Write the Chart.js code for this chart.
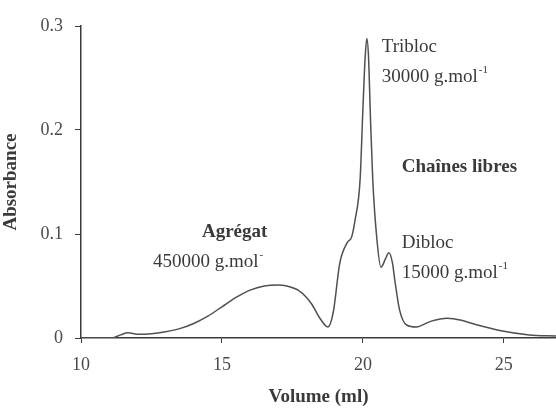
<!DOCTYPE html>
<html>
<head>
<meta charset="utf-8">
<script src="https://cdn.jsdelivr.net/npm/chart.js@4/dist/chart.umd.min.js"></script>
<style>
  html, body { margin: 0; padding: 0; background: #fff; }
  #wrap { width: 556px; height: 408px; position: relative; }
</style>
</head>
<body>
<div id="wrap"><canvas id="chart"></canvas></div>
<script>
// Elution volume (ml) and absorbance
var volume = [10, 11.1, 11.4, 11.67, 12.0, 12.5, 13, 13.5, 14, 14.5, 15, 15.5, 16, 16.5, 17, 17.3, 17.7, 18.0, 18.2, 18.45,
    18.76, 18.95, 19.18, 19.45, 19.6, 19.72, 19.9, 20.0, 20.08, 20.14, 20.2, 20.27, 20.35, 20.5, 20.64, 20.8, 20.92,
    21.05, 21.13, 21.3, 21.55, 21.9, 22.4, 23.0, 23.5, 24.0, 24.9, 25.9, 26.85];
var absorbance = [0, 0, 0.003, 0.005, 0.0035, 0.004, 0.006, 0.009, 0.014, 0.021, 0.030, 0.039, 0.046, 0.050, 0.051, 0.050,
    0.046, 0.039, 0.032, 0.020, 0.0106, 0.025, 0.072, 0.092, 0.097, 0.113, 0.152, 0.22, 0.27, 0.288, 0.27, 0.21, 0.152,
    0.094, 0.068, 0.076, 0.082, 0.072, 0.056, 0.027, 0.0125, 0.0106, 0.016, 0.019, 0.017, 0.013, 0.007, 0.003, 0.002];

var xTicks = [10, 15, 20, 25];
var yTicks = [0, 0.1, 0.2, 0.3];

// Peak labels: [text, superscript, bold, volume, absorbance]
var notes = [
    ['Tribloc', '', false, 20.67, 0.280],
    ['30000 g.mol', '-1', false, 20.67, 0.251],
    ['Chaînes libres', '', true, 21.38, 0.164],
    ['Agrégat', '', true, 14.29, 0.102],
    ['450000 g.mol', '-', false, 12.55, 0.073],
    ['Dibloc', '', false, 21.38, 0.091],
    ['15000 g.mol', '-1', false, 21.38, 0.0625]
];

var ink = '#3a3a3a';
var tickInk = '#4a4a4a';
var serif = '"Liberation Serif", "DejaVu Serif", serif';

var notesPlugin = {
    id: 'notes',
    afterDatasetsDraw: function(chart) {
        var ctx = chart.ctx;
        var xs = chart.scales.x, ys = chart.scales.y;
        ctx.save();
        ctx.fillStyle = ink;
        ctx.textBaseline = 'middle';
        ctx.textAlign = 'left';
        notes.forEach(function(n) {
            var px = xs.getPixelForValue(n[3]);
            var py = ys.getPixelForValue(n[4]);
            ctx.font = (n[2] ? 'bold ' : '') + '19px ' + serif;
            ctx.fillText(n[0], px, py);
            if (n[1]) {
                var w = ctx.measureText(n[0]).width;
                ctx.font = '11px ' + serif;
                ctx.fillText(n[1], px + w + 1, py - 7);
            }
        });
        ctx.restore();
    }
};

var ctx = document.getElementById('chart').getContext('2d');
new Chart(ctx, {
    type: 'line',
    data: {
        datasets: [{
            data: volume.map(function(v, i) { return { x: v, y: absorbance[i] }; }),
            borderColor: '#505050',
            borderWidth: 1.5,
            pointRadius: 0,
            fill: false,
            cubicInterpolationMode: 'monotone'
        }]
    },
    options: {
        responsive: true,
        maintainAspectRatio: false,
        animation: false,
        layout: { padding: { top: 26, right: 0, left: 0, bottom: 0 } },
        plugins: { legend: { display: false }, tooltip: { enabled: false } },
        scales: {
            x: {
                type: 'linear',
                min: 10,
                max: 26.85,
                afterFit: function(s) { s.height = 70; },
                afterBuildTicks: function(s) { s.ticks = xTicks.map(function(v) { return { value: v }; }); },
                border: { display: true, color: ink, width: 1.5 },
                grid: { drawOnChartArea: false, drawTicks: true, tickLength: 5, color: ink },
                ticks: { color: tickInk, padding: 11, maxRotation: 0, font: { family: serif, size: 18 },
                    callback: function(v) { return String(v); } },
                title: { display: true, text: 'Volume (ml)', color: ink, padding: { top: 4, bottom: 0 },
                    font: { family: serif, size: 19, weight: 'bold' } }
            },
            y: {
                min: 0,
                max: 0.3,
                afterFit: function(s) { s.width = 81; },
                afterBuildTicks: function(s) { s.ticks = yTicks.map(function(v) { return { value: v }; }); },
                border: { display: true, color: ink, width: 1.5 },
                grid: { drawOnChartArea: false, drawTicks: true, tickLength: 6, color: ink },
                ticks: { color: tickInk, padding: 12, font: { family: serif, size: 18 },
                    callback: function(v) { return v === 0 ? '0' : v.toFixed(1); } },
                title: { display: true, text: 'Absorbance', color: ink, padding: { top: 0, bottom: 4 },
                    font: { family: serif, size: 19, weight: 'bold' } }
            }
        }
    },
    plugins: [notesPlugin]
});
</script>
</body>
</html>
